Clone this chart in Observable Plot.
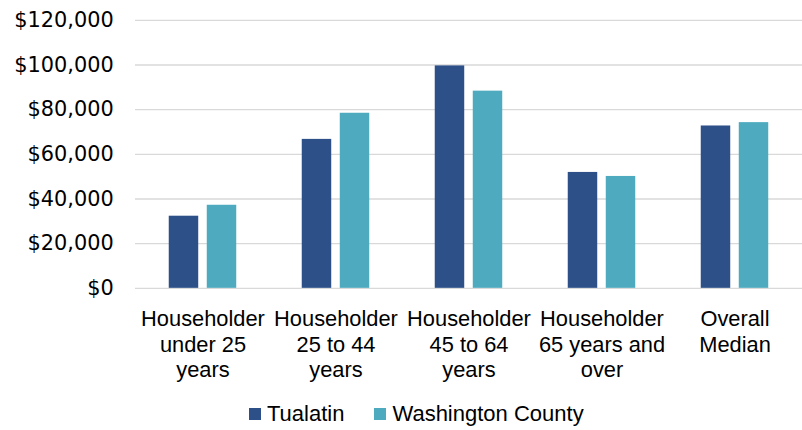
<!DOCTYPE html>
<html><head><meta charset="utf-8">
<script src="https://cdn.jsdelivr.net/npm/d3@7"></script>
<script src="https://cdn.jsdelivr.net/npm/@observablehq/plot@0.6"></script>
<style>
body{margin:0;background:#fff;}
#wrap{position:relative;width:802px;height:430px;overflow:hidden;background:#fff;}
#legend{position:absolute;left:249px;top:398px;height:32px;display:flex;align-items:center;font-family:"Liberation Sans",Arial,sans-serif;font-size:22px;color:#000;white-space:nowrap;}
#legend .sw{width:12px;height:12px;display:inline-block;margin-right:6px;}
#legend .item{display:flex;align-items:center;margin-right:30px;}
</style></head><body>
<div id="wrap"><div id="chart"></div><div id="legend"></div></div>
<script>
const categories = ["Householder under 25 years","Householder 25 to 44 years","Householder 45 to 64 years","Householder 65 years and over","Overall Median"];
const categoryLabels = ["Householder\nunder 25\nyears","Householder\n25 to 44\nyears","Householder\n45 to 64\nyears","Householder\n65 years and\nover","Overall\nMedian"];
const seriesNames = ["Tualatin","Washington County"];
const tualatin = [32300, 66700, 99600, 51900, 72700];
const washington = [37200, 78400, 88300, 50100, 74200];
const yTicks = [0, 20000, 40000, 60000, 80000, 100000, 120000];
const colors = ["#2D5089","#4EABBF"];

const rowsT = categories.map((c, i) => ({category: c, series: seriesNames[0], value: tualatin[i]}));
const rowsW = categories.map((c, i) => ({category: c, series: seriesNames[1], value: washington[i]}));
const labelOf = new Map(categories.map((c, i) => [c, categoryLabels[i]]));
const fmt = d => "$" + d3.format(",")(d);

const chart = Plot.plot({
  width: 808, height: 398,
  marginLeft: 136, marginRight: 0, marginTop: 20, marginBottom: 108,
  style: {background: "#fff"},
  x: {domain: categories, paddingInner: 0.49, paddingOuter: 0.245, label: null, axis: null},
  y: {domain: [0, 120000], axis: null},
  color: {domain: seriesNames, range: colors},
  marks: [
    Plot.gridY(yTicks, {stroke: "#d9d9d9", strokeOpacity: 1, strokeWidth: 1.3}),
    Plot.axisY(yTicks, {tickSize: 0, tickPadding: 22, tickFormat: fmt, label: null,
      fontSize: 21, fontFamily: "DejaVu Sans", fill: "#000"}),
    Plot.barY(rowsT, {x: "category", y: "value", fill: "series", insetRight: 38.3}),
    Plot.barY(rowsW, {x: "category", y: "value", fill: "series", insetLeft: 38.3}),
    Plot.axisX({anchor: "bottom", tickSize: 0, tickPadding: 20, label: null,
      tickFormat: d => labelOf.get(d), lineHeight: 1.17, fontSize: 22,
      fontFamily: "Liberation Sans, Arial, sans-serif", fill: "#000"})
  ]
});
document.getElementById("chart").appendChild(chart);

const legend = document.getElementById("legend");
seriesNames.forEach((s, i) => {
  const it = document.createElement("div"); it.className = "item";
  const sw = document.createElement("span"); sw.className = "sw"; sw.style.background = colors[i];
  const tx = document.createElement("span"); tx.textContent = s;
  it.appendChild(sw); it.appendChild(tx); legend.appendChild(it);
});
</script>
</body></html>
